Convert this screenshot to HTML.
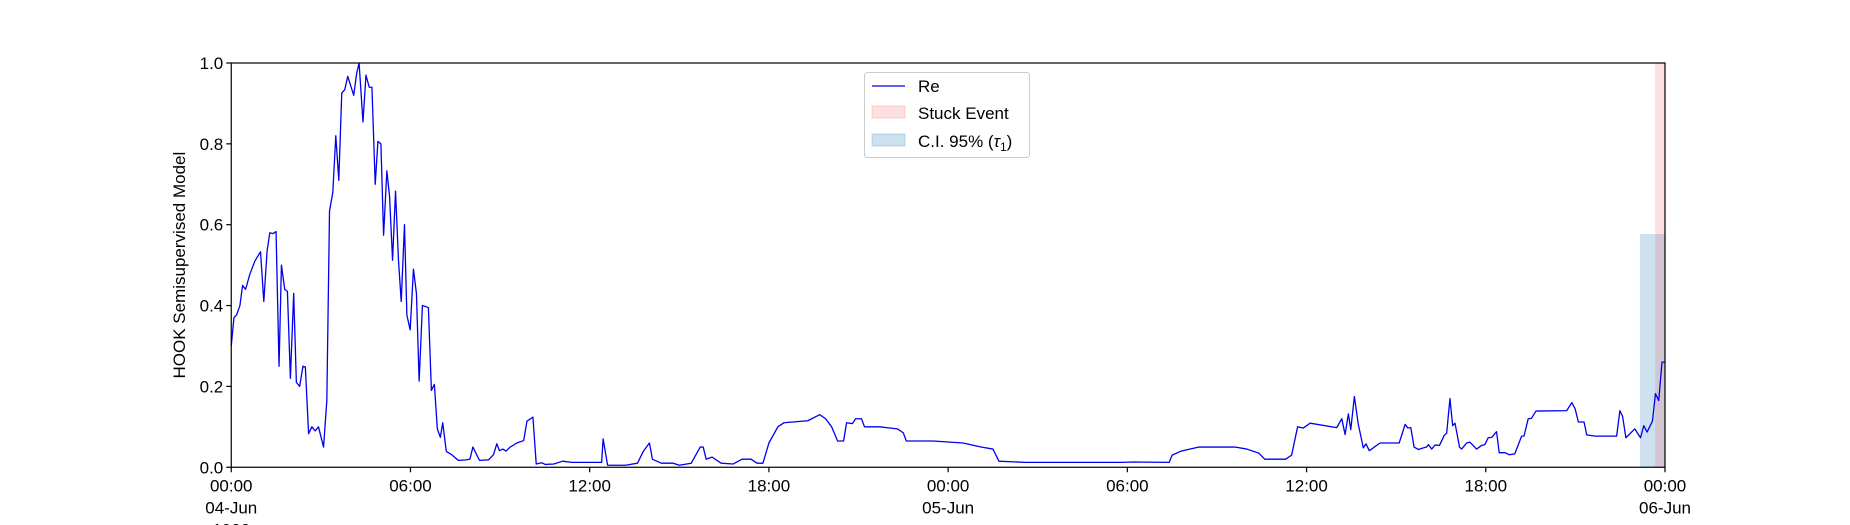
<!DOCTYPE html>
<html><head><meta charset="utf-8"><style>
html,body{margin:0;padding:0;background:#fff;}
svg{display:block;font-family:"Liberation Sans","DejaVu Sans",sans-serif;}
</style></head><body>
<svg id="chart" width="1850" height="525" viewBox="0 0 1850 525" xmlns="http://www.w3.org/2000/svg">
<g id="spans"></g>
<g id="series"></g>
<g id="axes"></g>
<g id="legend"></g>
</svg>
<script>
// data
const hours = [0,0.09,0.18,0.29,0.38,0.48,0.62,0.79,0.98,1.09,1.2,1.29,1.4,1.5,1.6,1.68,1.79,1.88,1.98,2.09,2.18,2.29,2.4,2.48,2.59,2.7,2.81,2.92,3.09,3.2,3.29,3.4,3.5,3.6,3.7,3.8,3.9,4.1,4.2,4.28,4.41,4.51,4.62,4.71,4.82,4.91,5.01,5.1,5.21,5.3,5.4,5.5,5.6,5.69,5.8,5.88,5.99,6.1,6.2,6.29,6.4,6.6,6.7,6.8,6.9,7.0,7.08,7.2,7.38,7.6,7.83,7.99,8.09,8.31,8.5,8.61,8.78,8.89,8.98,9.09,9.2,9.34,9.56,9.79,9.9,10.1,10.21,10.4,10.51,10.8,11.1,11.4,12.4,12.45,12.6,13.2,13.6,13.8,14.0,14.1,14.4,14.8,15.0,15.4,15.7,15.8,15.9,16.1,16.4,16.8,17.1,17.4,17.6,17.8,17.9,18.0,18.3,18.5,19.3,19.7,19.9,20.1,20.3,20.5,20.6,20.8,20.9,21.1,21.2,21.7,22.3,22.5,22.6,23.5,24.5,25.1,25.5,25.7,26.6,27.8,29.8,30.2,31.4,31.5,31.8,32.4,33.6,34.0,34.4,34.6,35.3,35.5,35.7,35.89,36.12,37.01,37.18,37.29,37.4,37.48,37.6,37.73,37.9,37.99,38.1,38.46,39.1,39.3,39.39,39.49,39.6,39.74,39.91,40.02,40.08,40.19,40.3,40.45,40.61,40.69,40.8,40.89,40.97,41.12,41.19,41.36,41.47,41.69,41.86,41.97,42.08,42.2,42.36,42.45,42.64,42.79,42.97,43.2,43.28,43.42,43.53,43.68,44.71,44.88,44.99,45.1,45.29,45.38,45.66,46.38,46.49,46.58,46.69,46.99,47.18,47.29,47.4,47.58,47.68,47.79,47.9,47.99];
const values = [0.30,0.37,0.377,0.40,0.45,0.44,0.477,0.51,0.533,0.41,0.535,0.58,0.578,0.583,0.25,0.50,0.44,0.435,0.22,0.43,0.21,0.20,0.25,0.248,0.083,0.10,0.09,0.10,0.05,0.165,0.634,0.68,0.82,0.71,0.926,0.934,0.967,0.92,0.975,1.0,0.854,0.97,0.94,0.94,0.70,0.806,0.80,0.574,0.733,0.67,0.512,0.683,0.51,0.41,0.60,0.376,0.34,0.49,0.43,0.213,0.40,0.395,0.19,0.205,0.095,0.074,0.11,0.039,0.031,0.017,0.018,0.02,0.05,0.017,0.018,0.018,0.031,0.058,0.041,0.045,0.04,0.05,0.06,0.066,0.114,0.124,0.008,0.011,0.007,0.008,0.015,0.012,0.012,0.07,0.005,0.005,0.01,0.04,0.06,0.02,0.01,0.01,0.005,0.01,0.05,0.05,0.02,0.025,0.01,0.008,0.02,0.02,0.01,0.01,0.035,0.06,0.10,0.11,0.115,0.13,0.12,0.10,0.065,0.065,0.11,0.108,0.12,0.12,0.10,0.10,0.095,0.085,0.065,0.065,0.06,0.05,0.045,0.015,0.012,0.012,0.012,0.013,0.012,0.03,0.04,0.05,0.05,0.045,0.035,0.02,0.02,0.03,0.10,0.097,0.109,0.098,0.12,0.081,0.132,0.093,0.175,0.107,0.048,0.058,0.041,0.06,0.06,0.106,0.097,0.098,0.05,0.044,0.048,0.05,0.056,0.045,0.055,0.054,0.079,0.084,0.17,0.103,0.109,0.05,0.045,0.06,0.062,0.045,0.054,0.056,0.073,0.074,0.088,0.036,0.036,0.031,0.033,0.077,0.077,0.12,0.121,0.139,0.14,0.16,0.145,0.112,0.112,0.08,0.077,0.077,0.14,0.126,0.073,0.095,0.073,0.103,0.087,0.114,0.182,0.165,0.26,0.26];
const xTickHours = [0,6,12,18,24,30,36,42,48];
const xTickLabels = ["00:00\n04-Jun\n1900","06:00","12:00","18:00","00:00\n05-Jun","06:00","12:00","18:00","00:00\n06-Jun"];
const yTicks = [0,0.2,0.4,0.6,0.8,1.0];
const yTickLabels = ["0.0","0.2","0.4","0.6","0.8","1.0"];
const ciSpan = [47.16, 48, 0.577];
const stuckSpan = [47.67, 48, 1.0];

const L=231.25,R=1665,T=63,B=467.25;
const X=h=>L+(h-0)/48*(R-L);
const Y=v=>B-v*(B-T);
const NS="http://www.w3.org/2000/svg";
function mk(tag,attrs,parent){const e=document.createElementNS(NS,tag);for(const k in attrs)e.setAttribute(k,attrs[k]);parent.appendChild(e);return e;}

const spans=document.getElementById('spans');
let ci=mk('rect',{x:X(ciSpan[0]),y:Y(ciSpan[2]),width:X(ciSpan[1])-X(ciSpan[0]),height:Y(0)-Y(ciSpan[2]),fill:'#1f77b4','fill-opacity':0.22},spans);


let st=mk('rect',{x:X(stuckSpan[0]),y:Y(stuckSpan[2]),width:X(stuckSpan[1])-X(stuckSpan[0]),height:Y(0)-Y(stuckSpan[2]),fill:'#ff0000','fill-opacity':0.12},spans);



const series=document.getElementById('series');
let d=hours.map((h,i)=>(i?'L':'M')+X(h).toFixed(2)+' '+Y(values[i]).toFixed(2)).join(' ');
let ln=mk('path',{d:d,fill:'none',stroke:'#0000ee','stroke-width':1.3,'stroke-linejoin':'round'},series);



const axes=document.getElementById('axes');
let fr=mk('rect',{x:L,y:T,width:R-L,height:B-T,fill:'none',stroke:'#000','stroke-width':1.2},axes);


yTicks.forEach((v,i)=>{
  const tk=mk('line',{x1:L-5,x2:L,y1:Y(v),y2:Y(v),stroke:'#000','stroke-width':1.2},axes);
  
  
  const t=mk('text',{x:L-8,y:Y(v)+6,'text-anchor':'end','font-size':17},axes);
  t.textContent=yTickLabels[i];
  
  
});
xTickHours.forEach((h,i)=>{
  const tk=mk('line',{x1:X(h),x2:X(h),y1:B,y2:B+5,stroke:'#000','stroke-width':1.2},axes);
  
  
  xTickLabels[i].split('\n').forEach((s,j)=>{
    const t=mk('text',{x:X(h),y:B+24+j*22,'text-anchor':'middle','font-size':17},axes);
    t.textContent=s;
    
    
  });
});
const yl=mk('text',{x:0,y:0,transform:`translate(185,${(T+B)/2}) rotate(-90)`,'text-anchor':'middle','font-size':17},axes);
yl.textContent='HOOK Semisupervised Model';



const lg=document.getElementById('legend');
const box=mk('rect',{x:864.5,y:72.5,width:165,height:85,rx:3,fill:'#fff','fill-opacity':0.8,stroke:'#ccc','stroke-width':1},lg);


const e1=mk('line',{x1:872,x2:905,y1:86,y2:86,stroke:'#0000ee','stroke-width':1.3},lg);


const e2=mk('rect',{x:872,y:106,width:33,height:12,fill:'#ff0000','fill-opacity':0.12,stroke:'#ff0000','stroke-opacity':0.15},lg);


const e3=mk('rect',{x:872,y:134,width:33,height:12,fill:'#1f77b4','fill-opacity':0.22,stroke:'#1f77b4','stroke-opacity':0.25},lg);


[['Re',92],['Stuck Event',119],['C.I. 95% (',147]].forEach((a,i)=>{
  const t=mk('text',{x:918,y:a[1],'font-size':17},lg);
  t.textContent=a[0];
  if(i===2){
    const ts=mk('tspan',{'font-style':'italic'},t);ts.textContent='τ';
    const s=mk('tspan',{'font-size':12,dy:4},t);s.textContent='1';
    const c=mk('tspan',{dy:-4},t);c.textContent=')';
  }
  
  
});
</script>
</body></html>
